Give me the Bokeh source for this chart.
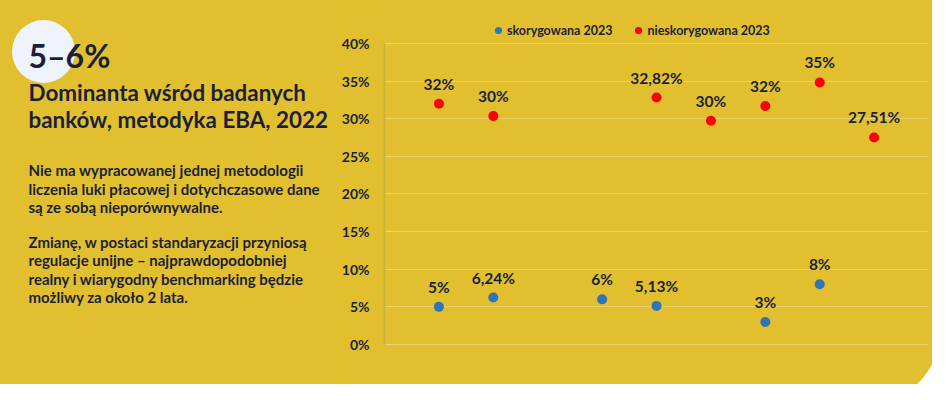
import numpy as np
from bokeh.plotting import figure
from bokeh.layouts import row
from bokeh.models import (Range1d, Legend, LegendItem, PrintfTickFormatter,
                          FixedTicker)
from bokeh.core.properties import value
from bokeh.embed import file_html
from bokeh.resources import INLINE

# ---------------- data ----------------
series_names = ["skorygowana 2023", "nieskorygowana 2023"]
adj_x = [1, 2, 4, 5, 7, 8]
adj_val = [5.0, 6.24, 6.0, 5.13, 3.0, 8.0]
adj_lbl = ["5%", "6,24%", "6%", "5,13%", "3%", "8%"]
unadj_x = [1, 2, 5, 6, 7, 8, 9]
unadj_val = [32.0, 30.35, 32.82, 29.73, 31.68, 34.82, 27.51]
unadj_lbl = ["32%", "30%", "32,82%", "30%", "32%", "35%", "27,51%"]
y_ticks = [0, 5, 10, 15, 20, 25, 30, 35, 40]

headline = "5–6%"
title_lines = ["Dominanta wśród badanych", "banków, metodyka EBA, 2022"]
para1 = ["Nie ma wypracowanej jednej metodologii",
         "liczenia luki płacowej i dotychczasowe dane",
         "są ze sobą nieporównywalne."]
para2 = ["Zmianę, w postaci standaryzacji przyniosą",
         "regulacje unijne – najprawdopodobniej",
         "realny i wiarygodny benchmarking będzie",
         "możliwy za około 2 lata."]

# ---------------- style ----------------
YELLOW = "#E2BF2E"
NAVY = "#1B1F3B"
BLUE = "#2E75B6"
RED = "#FF0000"
GRID = "#EBD26E"
AXIS = "#C9B03A"
CIRCLE = "#EEF3FC"
FONT = value("Lato")

H = 384
LW = 338
RW = 594

# ---------------- left panel ----------------
left = figure(width=LW, height=H, x_range=Range1d(0, LW),
              y_range=Range1d(H, 0), output_backend="svg",
              toolbar_location=None, min_border=0,
              x_axis_location=None, y_axis_location=None)
left.grid.visible = False
left.outline_line_color = None
left.background_fill_color = YELLOW
left.border_fill_color = YELLOW

left.circle(x=[43], y=[51], radius=31.5, fill_color=CIRCLE, line_color=None)
left.text(x=[28], y=[54.5], text=[headline], text_font=FONT, text_font_style="bold",
          text_font_size="32px", text_color=NAVY, text_baseline="middle")
left.text(x=[28, 28], y=[91.5, 118.5], text=title_lines, text_font=FONT,
          text_font_style="bold", text_font_size="22.4px", text_color=NAVY,
          text_baseline="middle")
left.text(x=[28] * 3, y=[169.5, 188.2, 206.9], text=para1, text_font=FONT,
          text_font_style="bold", text_font_size="15px", text_color=NAVY,
          text_baseline="middle")
left.text(x=[28] * 4, y=[241, 259.6, 278.2, 296.8], text=para2, text_font=FONT,
          text_font_style="bold", text_font_size="15px", text_color=NAVY,
          text_baseline="middle")

# ---------------- right chart ----------------
p = figure(width=RW, height=H, x_range=Range1d(0, 10.073),
           y_range=Range1d(-5.316, 45.71), output_backend="svg",
           toolbar_location=None, x_axis_location=None,
           min_border_left=45, min_border_right=0, min_border_top=0,
           min_border_bottom=0)
p.extra_x_ranges = {"px": Range1d(383, 932)}
p.extra_y_ranges = {"py": Range1d(384, 0)}
p.outline_line_color = None
p.background_fill_color = YELLOW
p.border_fill_color = YELLOW
p.xgrid.visible = False

yax = p.yaxis[0]
yax.ticker = FixedTicker(ticks=y_ticks)
yax.formatter = PrintfTickFormatter(format="%d%%")
yax.bounds = (0, 40)
yax.major_tick_in = 0
yax.major_tick_out = 0
yax.minor_tick_in = 0
yax.minor_tick_out = 0
yax.major_label_standoff = 15
yax.axis_line_color = AXIS
yax.axis_line_width = 1.5
yax.major_label_text_font = "Lato"
yax.major_label_text_font_style = "bold"
yax.major_label_text_font_size = "14px"
yax.major_label_text_color = NAVY

yg = p.ygrid[0]
yg.grid_line_color = GRID
yg.grid_line_width = 1
yg.cross_bounds = (0, 10)

# rounded white corner (decoration, in pixel space)
th = np.linspace(0, np.pi / 2, 40)
cx = list(853 + 90 * np.cos(th)) + [960, 960]
cy = list(320 + 90 * np.sin(th)) + [420, 320]
p.patch(cx, cy, fill_color="white", line_color=None,
        x_range_name="px", y_range_name="py")

r_adj = p.scatter(adj_x, adj_val, size=10, fill_color=BLUE, line_color=None)
r_un = p.scatter(unadj_x, unadj_val, size=10, fill_color=RED, line_color=None)

p.text(adj_x, adj_val, text=adj_lbl, text_font=FONT, text_font_style="bold",
       text_font_size="15.5px", text_color=NAVY, text_align="center",
       text_baseline="middle", y_offset=-20)
p.text(unadj_x, unadj_val, text=unadj_lbl, text_font=FONT, text_font_style="bold",
       text_font_size="15.5px", text_color=NAVY, text_align="center",
       text_baseline="middle", y_offset=-20)

legend = Legend(items=[LegendItem(label=series_names[0], renderers=[r_adj]),
                       LegendItem(label=series_names[1], renderers=[r_un])],
                orientation="horizontal", location=(105, 345),
                background_fill_alpha=0, border_line_alpha=0,
                label_text_font="Lato", label_text_font_style="bold",
                label_text_font_size="12.5px", label_text_color=NAVY,
                glyph_width=18, glyph_height=18, label_standoff=0,
                spacing=17, padding=0, margin=0)
p.add_layout(legend)

layout = row(left, p, styles={"background-color": YELLOW})
open("out.html", "w").write(file_html(layout, INLINE))
